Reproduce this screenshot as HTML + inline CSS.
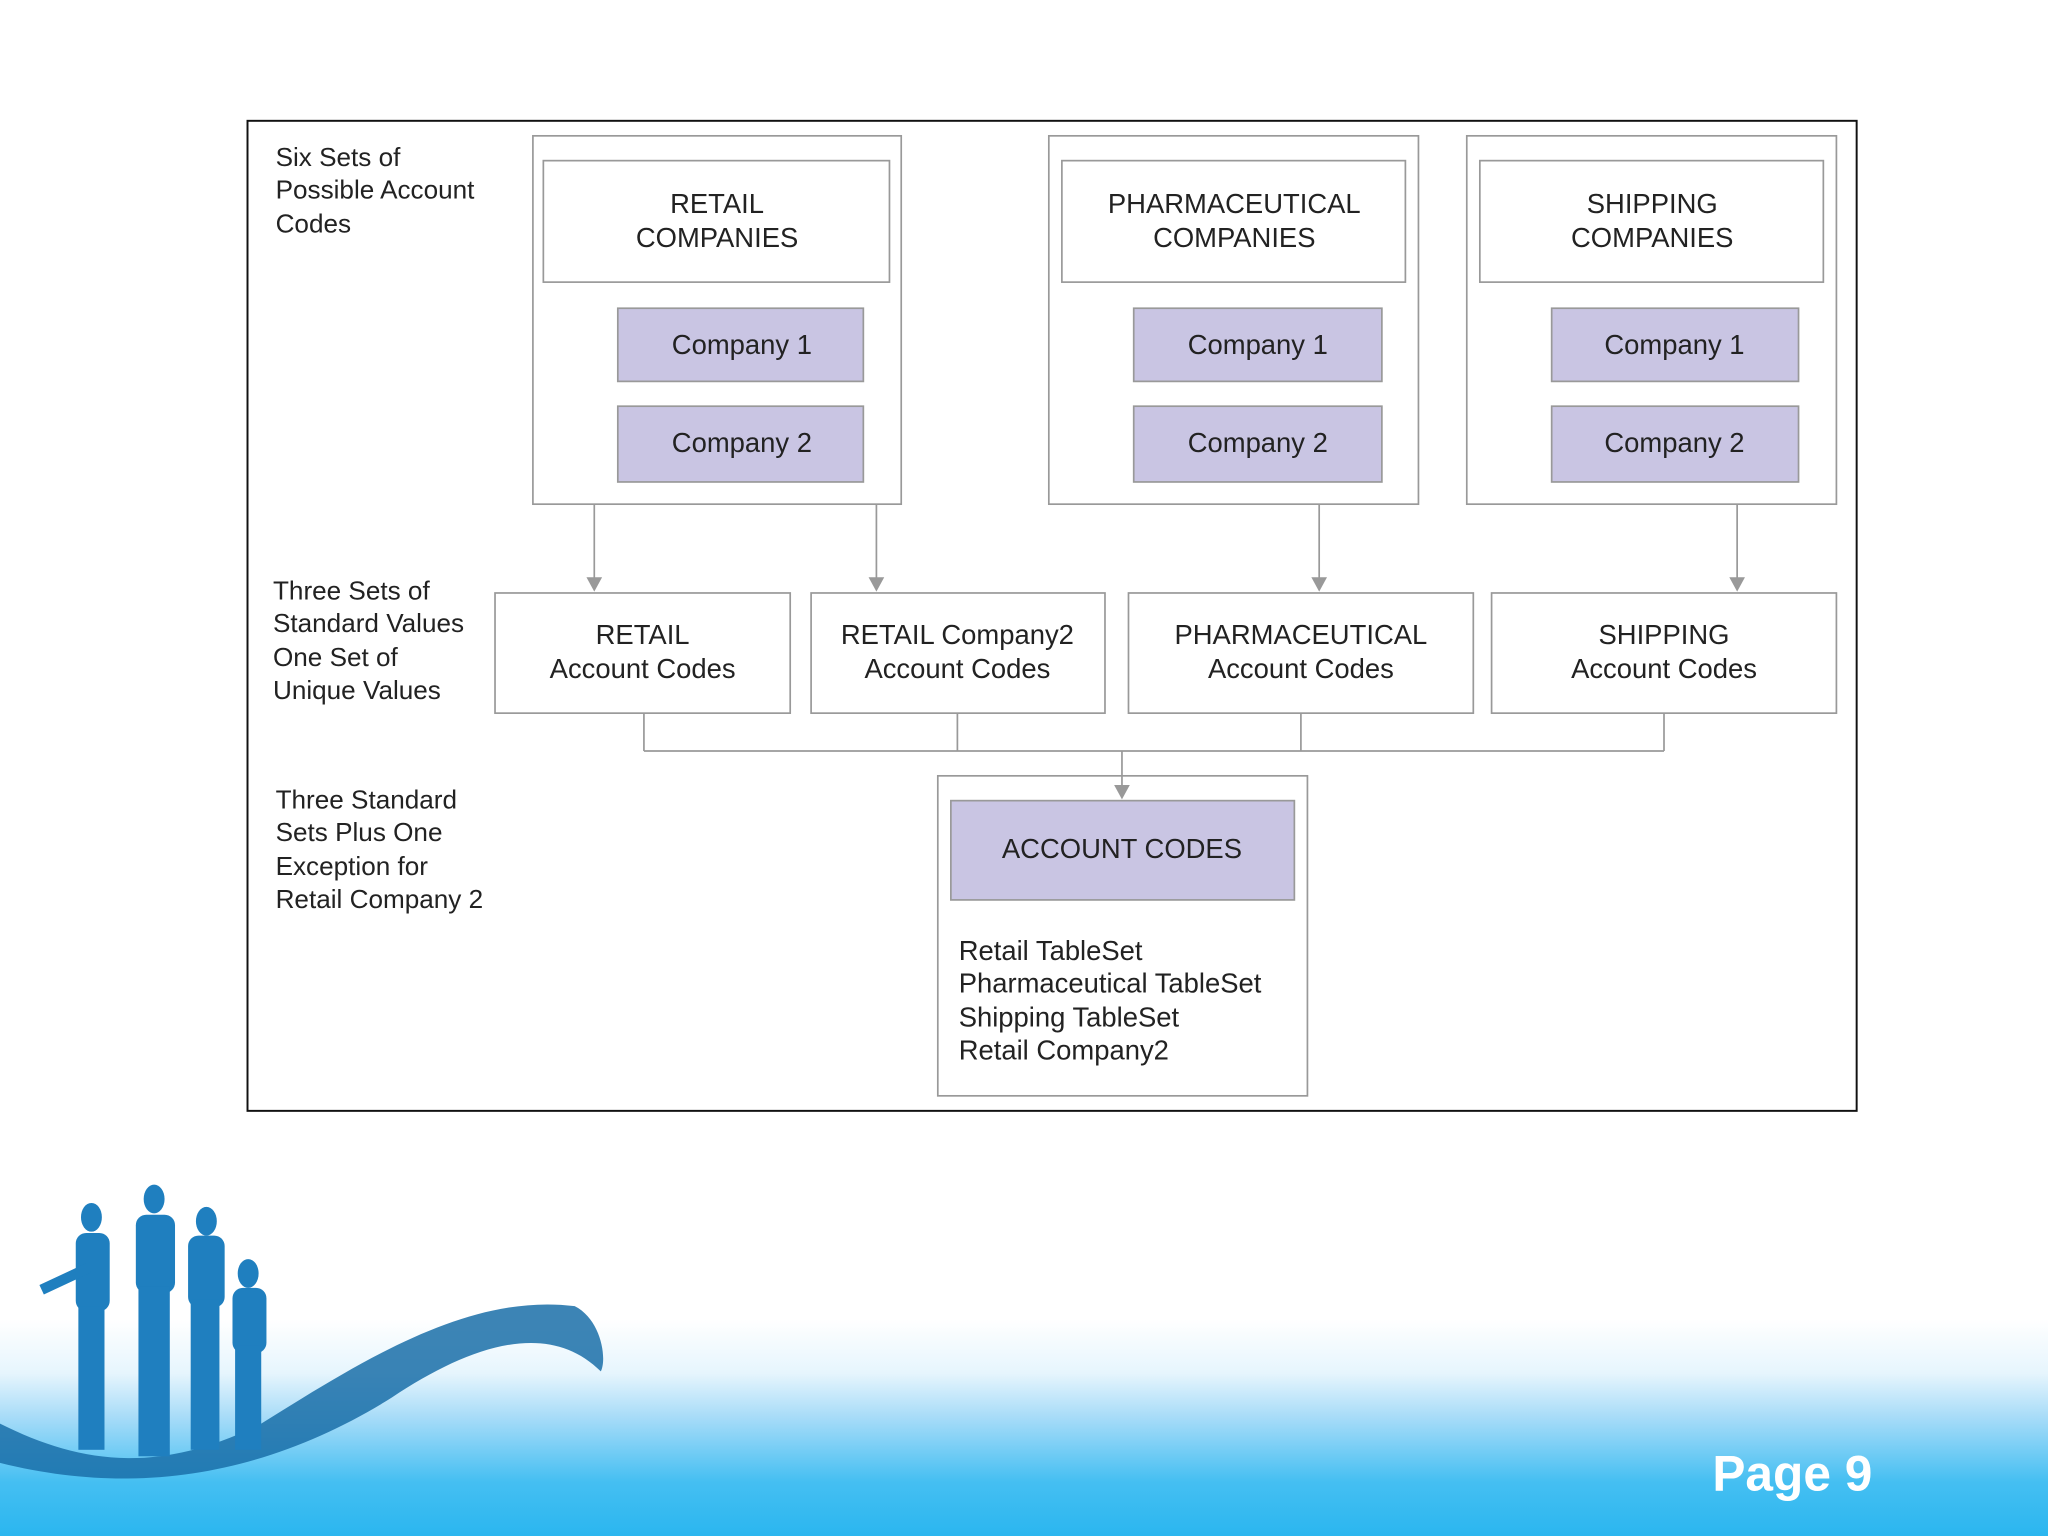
<!DOCTYPE html>
<html><head><meta charset="utf-8"><style>
html,body{margin:0;padding:0;background:#fff;width:2048px;height:1536px;overflow:hidden}
svg{display:block}
text{font-family:"Liberation Sans",sans-serif;fill:#222}
</style></head><body>
<svg width="2048" height="1536" viewBox="0 0 1568 1176" xmlns="http://www.w3.org/2000/svg">
<defs>
<linearGradient id="bg" x1="0" y1="0" x2="0" y2="1">
<stop offset="0" stop-color="#fff"/>
<stop offset="0.25" stop-color="#e6f5fd"/>
<stop offset="0.45" stop-color="#a8dcf8"/>
<stop offset="0.75" stop-color="#45bff2"/>
<stop offset="1" stop-color="#2bb6ef"/>
</linearGradient>
<marker id="ah" markerWidth="10" markerHeight="10" refX="5" refY="9" orient="auto" markerUnits="userSpaceOnUse"><path d="M0,0 L10,0 L5,10 Z" transform="rotate(0)" fill="#999"/></marker>
</defs>
<rect x="0" y="1010" width="1568" height="166" fill="url(#bg)"/>
<path d="M0,1090 C60,1120 120,1130 200,1090 C280,1040 360,990 440,1000 C460,1010 465,1040 460,1050 C420,1010 360,1030 300,1070 C220,1120 120,1150 0,1120 Z" fill="#1a6fa8" opacity="0.85"/>
<g fill="#1f7fbf">
<ellipse cx="70" cy="932" rx="8" ry="11"/><rect x="58" y="944" width="26" height="60" rx="8"/><rect x="60" y="1000" width="20" height="110"/>
<ellipse cx="118" cy="918" rx="8" ry="11"/><rect x="104" y="930" width="30" height="60" rx="8"/><rect x="106" y="985" width="24" height="130"/>
<ellipse cx="158" cy="935" rx="8" ry="11"/><rect x="144" y="946" width="28" height="55" rx="8"/><rect x="146" y="995" width="22" height="115"/>
<ellipse cx="190" cy="975" rx="8" ry="11"/><rect x="178" y="986" width="26" height="50" rx="8"/><rect x="180" y="1030" width="20" height="80"/>
<rect x="30" y="975" width="40" height="8" transform="rotate(-25 50 979)"/>
</g>
<text x="1311" y="1141" style="font-size:38px;font-weight:bold;fill:#fff">Page 9</text>

<rect x="189.5" y="92.5" width="1232" height="758" fill="#fff" stroke="#111" stroke-width="1.5"/>
<g stroke="#999" stroke-width="1.3" fill="#fff">
<rect x="408" y="104" width="282" height="282"/>
<rect x="416" y="123" width="265" height="93"/>
<rect x="803" y="104" width="283" height="282"/>
<rect x="813" y="123" width="263" height="93"/>
<rect x="1123" y="104" width="283" height="282"/>
<rect x="1133" y="123" width="263" height="93"/>
<g fill="#c9c5e3">
<rect x="473" y="236" width="188" height="56"/><rect x="473" y="311" width="188" height="58"/>
<rect x="868" y="236" width="190" height="56"/><rect x="868" y="311" width="190" height="58"/>
<rect x="1188" y="236" width="189" height="56"/><rect x="1188" y="311" width="189" height="58"/>
</g>
<rect x="379" y="454" width="226" height="92"/>
<rect x="621" y="454" width="225" height="92"/>
<rect x="864" y="454" width="264" height="92"/>
<rect x="1142" y="454" width="264" height="92"/>
<rect x="718" y="594" width="283" height="245"/>
<rect x="728" y="613" width="263" height="76" fill="#c9c5e3"/>
<path d="M455,386V446 M671,386V446 M1010,386V446 M1330,386V446 M493,546V575 M733,546V575 M996,546V575 M1274,546V575 M493,575H1274 M859,575V606" fill="none"/>
</g>
<g fill="#999">
<path d="M449,442h12l-6,11z"/><path d="M665,442h12l-6,11z"/><path d="M1004,442h12l-6,11z"/><path d="M1324,442h12l-6,11z"/><path d="M853,601h12l-6,11z"/>
</g>
<g style="font-size:20px">
<text x="211" y="127">Six Sets of</text><text x="211" y="152">Possible Account</text><text x="211" y="178">Codes</text>
<text x="209" y="459">Three Sets of</text><text x="209" y="484">Standard Values</text><text x="209" y="510">One Set of</text><text x="209" y="535">Unique Values</text>
<text x="211" y="619">Three Standard</text><text x="211" y="644">Sets Plus One</text><text x="211" y="670">Exception for</text><text x="211" y="695">Retail Company 2</text>
</g>
<g style="font-size:21px" text-anchor="middle">
<text x="549" y="163">RETAIL</text><text x="549" y="189">COMPANIES</text>
<text x="945" y="163">PHARMACEUTICAL</text><text x="945" y="189">COMPANIES</text>
<text x="1265" y="163">SHIPPING</text><text x="1265" y="189">COMPANIES</text>
<text x="568" y="271">Company 1</text><text x="568" y="346">Company 2</text>
<text x="963" y="271">Company 1</text><text x="963" y="346">Company 2</text>
<text x="1282" y="271">Company 1</text><text x="1282" y="346">Company 2</text>
<text x="492" y="493">RETAIL</text><text x="492" y="519">Account Codes</text>
<text x="733" y="493">RETAIL Company2</text><text x="733" y="519">Account Codes</text>
<text x="996" y="493">PHARMACEUTICAL</text><text x="996" y="519">Account Codes</text>
<text x="1274" y="493">SHIPPING</text><text x="1274" y="519">Account Codes</text>
<text x="859" y="657">ACCOUNT CODES</text>
</g>
<g style="font-size:21px">
<text x="734" y="735">Retail TableSet</text><text x="734" y="760">Pharmaceutical TableSet</text><text x="734" y="786">Shipping TableSet</text><text x="734" y="811">Retail Company2</text>
</g>
</svg>
</body></html>
